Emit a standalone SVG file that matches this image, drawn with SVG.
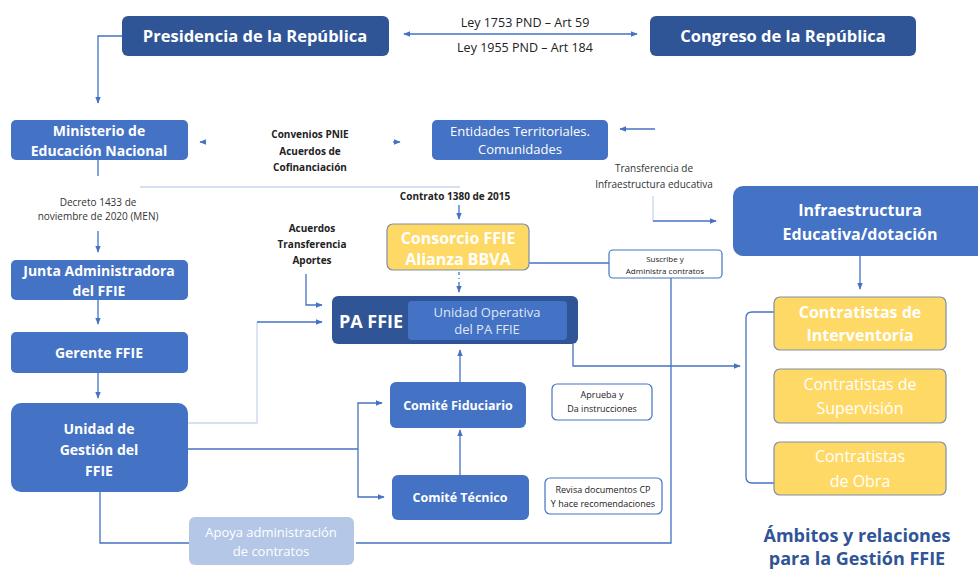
<svg xmlns="http://www.w3.org/2000/svg" width="978" height="569" viewBox="0 0 978 569">
<defs>
<marker id="ah" viewBox="0 0 10 10" refX="9" refY="5" markerWidth="7" markerHeight="7" orient="auto-start-reverse" markerUnits="userSpaceOnUse"><path d="M0,1 L10,5 L0,9 z" fill="#4472c4"/></marker>
<style>
text{font-family:"Open Sans","Noto Sans","Liberation Sans",sans-serif;text-anchor:middle}
.dk{fill:#2f5597}
.md{fill:#4472c4}
.yl{fill:#ffd966;stroke:#7f8fa6;stroke-width:1.2}
.lt{fill:#b4c7e7}
.note{fill:#fff;stroke:#4472c4;stroke-width:1.2}
.wb{fill:#fff;font-weight:bold}
.wn{fill:#fff}
.lb{fill:#222;font-weight:bold;font-size:10px}
.ln{fill:#333;font-size:10px}
.c{fill:none;stroke:#4472c4;stroke-width:1.3}
.f{fill:none;stroke:#c9d6ee;stroke-width:1.3}
</style>
</defs>
<g id="connectors">
<line class="c" x1="404" y1="34" x2="637" y2="34" marker-start="url(#ah)" marker-end="url(#ah)"/>
<path class="c" d="M122,36 H98 V103" marker-end="url(#ah)"/>
<line class="c" x1="205" y1="142" x2="200" y2="142" marker-end="url(#ah)"/>
<line class="c" x1="393" y1="142" x2="400" y2="142" marker-end="url(#ah)"/>
<path class="c" d="M655,129 H620" marker-end="url(#ah)"/>
<path class="f" d="M653,196 V221"/>
<path class="c" d="M653,221 H716" marker-end="url(#ah)"/>
<path class="c" d="M98,160 V176"/>
<path class="c" d="M98,231 V252" marker-end="url(#ah)"/>
<path class="f" d="M140,187 H460"/>
<path class="c" d="M459,205 V219" marker-end="url(#ah)"/>
<path class="c" d="M529,263 H609"/>
<path class="c" d="M459,272 V279" stroke-dasharray="3,3"/>
<path class="c" d="M459,282 V292" marker-end="url(#ah)"/>
<path class="c" d="M306,274 V305 H322" marker-end="url(#ah)"/>
<path class="f" d="M188,423 H257 V322"/>
<path class="c" d="M257,322 H322" marker-end="url(#ah)"/>
<path class="c" d="M573,344 V366 H740" marker-end="url(#ah)"/>
<path class="c" d="M775,312 H752 Q746,312 746,318 V477 Q746,483 752,483 H775"/>
<path class="c" d="M860,256 V289" marker-end="url(#ah)"/>
<path class="c" d="M98,300 V324" marker-end="url(#ah)"/>
<path class="c" d="M98,373 V398" marker-end="url(#ah)"/>
<path class="c" d="M188,449 H358"/>
<path class="c" d="M358,449 V403 H382" marker-end="url(#ah)"/>
<path class="c" d="M358,449 V497 H384" marker-end="url(#ah)"/>
<path class="c" d="M460,475 V430" marker-end="url(#ah)"/>
<path class="c" d="M460,382 V350" marker-end="url(#ah)"/>
<path class="c" d="M100,492 V543 H189"/>
<path class="c" d="M356,543 H671 V278"/>
</g>
<g id="presidencia"><rect class="dk" x="122" y="16" width="267" height="40" rx="6"/><text class="wb" x="255" y="42" font-size="16.5">Presidencia de la República</text></g>
<g id="congreso"><rect class="dk" x="650" y="16" width="266" height="40" rx="6"/><text class="wb" x="783" y="42" font-size="16.5">Congreso de la República</text></g>
<g id="ley-labels"><text x="525" y="27" font-size="12.5" fill="#222">Ley 1753 PND – Art 59</text><text x="525" y="52" font-size="12.5" fill="#222">Ley 1955 PND – Art 184</text></g>
<g id="ministerio"><rect class="md" x="11" y="120" width="177" height="40" rx="5"/><text class="wb" x="99" y="136" font-size="14">Ministerio de</text><text class="wb" x="99" y="156" font-size="14">Educación Nacional</text></g>
<g id="convenios"><text class="lb" x="310" y="138">Convenios PNIE</text><text class="lb" x="310" y="155">Acuerdos de</text><text class="lb" x="310" y="171">Cofinanciación</text></g>
<g id="entidades"><rect class="md" x="432" y="120" width="176" height="40" rx="5"/><text class="wn" x="520" y="136" font-size="13">Entidades Territoriales.</text><text class="wn" x="520" y="154" font-size="13">Comunidades</text></g>
<g id="transferencia"><text class="ln" x="654" y="172">Transferencia de</text><text class="ln" x="654" y="188">Infraestructura educativa</text></g>
<g id="decreto"><text class="ln" x="98" y="206">Decreto 1433 de</text><text class="ln" x="98" y="220">noviembre de 2020 (MEN)</text></g>
<g id="contrato"><text class="lb" x="455" y="200">Contrato 1380 de 2015</text></g>
<g id="acuerdos"><text class="lb" x="312" y="232">Acuerdos</text><text class="lb" x="312" y="248">Transferencia</text><text class="lb" x="312" y="264">Aportes</text></g>
<g id="junta"><rect class="md" x="11" y="260" width="177" height="40" rx="5"/><text class="wb" x="99" y="276" font-size="14">Junta Administradora</text><text class="wb" x="99" y="296" font-size="14">del FFIE</text></g>
<g id="gerente"><rect class="md" x="11" y="332" width="177" height="41" rx="5"/><text class="wb" x="99" y="358" font-size="14">Gerente FFIE</text></g>
<g id="unidad-gestion"><rect class="md" x="11" y="403" width="177" height="89" rx="10"/><text class="wb" x="99" y="434" font-size="14">Unidad de</text><text class="wb" x="99" y="455" font-size="14">Gestión del</text><text class="wb" x="99" y="476" font-size="14">FFIE</text></g>
<g id="consorcio"><rect class="yl" x="387" y="224" width="142" height="46" rx="6"/><text class="wb" x="458" y="244" font-size="16">Consorcio FFIE</text><text class="wb" x="458" y="265" font-size="16">Alianza BBVA</text></g>
<g id="suscribe"><rect class="note" x="609" y="250" width="113" height="28" rx="4"/><text x="665" y="262" font-size="8" fill="#222">Suscribe y</text><text x="665" y="274" font-size="8" fill="#222">Administra contratos</text></g>
<g id="pa-ffie"><rect class="dk" x="332" y="296" width="246" height="48" rx="6"/><text class="wb" x="371" y="328" font-size="18">PA FFIE</text><rect class="md" x="408" y="301" width="159" height="39" rx="4"/><text x="487" y="317" font-size="13" fill="#dfe7f5">Unidad Operativa</text><text x="487" y="334" font-size="13" fill="#dfe7f5">del PA FFIE</text></g>
<g id="infraestructura"><rect class="md" x="733" y="186" width="260" height="70" rx="10"/><text class="wb" x="860" y="216" font-size="16">Infraestructura</text><text class="wb" x="860" y="240" font-size="16">Educativa/dotación</text></g>
<g id="interventoria"><rect class="yl" x="774" y="297" width="172" height="53" rx="6"/><text class="wb" x="860" y="318" font-size="16">Contratistas de</text><text class="wb" x="860" y="341" font-size="16">Interventoría</text></g>
<g id="supervision"><rect class="yl" x="774" y="369" width="172" height="54" rx="6"/><text class="wn" x="860" y="390" font-size="16">Contratistas de</text><text class="wn" x="860" y="414" font-size="16">Supervisión</text></g>
<g id="obra"><rect class="yl" x="774" y="442" width="172" height="53" rx="6"/><text class="wn" x="860" y="462" font-size="16">Contratistas</text><text class="wn" x="860" y="487" font-size="16">de Obra</text></g>
<g id="comite-fiduciario"><rect class="md" x="390" y="382" width="136" height="46" rx="6"/><text class="wb" x="458" y="410" font-size="12.5">Comité Fiduciario</text></g>
<g id="comite-tecnico"><rect class="md" x="392" y="475" width="137" height="45" rx="6"/><text class="wb" x="460" y="502" font-size="12.5">Comité Técnico</text></g>
<g id="aprueba"><rect class="note" x="552" y="384" width="100" height="36" rx="5"/><text x="602" y="398" font-size="9" fill="#222">Aprueba y</text><text x="602" y="412" font-size="9" fill="#222">Da instrucciones</text></g>
<g id="revisa"><rect class="note" x="545" y="478" width="117" height="36" rx="5"/><text x="603" y="493" font-size="9" fill="#222">Revisa documentos CP</text><text x="603" y="507" font-size="9" fill="#222">Y hace recomendaciones</text></g>
<g id="apoya"><rect class="lt" x="189" y="517" width="165" height="48" rx="6"/><text class="wn" x="271" y="537" font-size="13">Apoya administración</text><text class="wn" x="271" y="556" font-size="13">de contratos</text></g>
<g id="titulo"><text x="857" y="542" font-size="18" font-weight="bold" fill="#2f5597">Ámbitos y relaciones</text><text x="857" y="565" font-size="18" font-weight="bold" fill="#2f5597">para la Gestión FFIE</text></g>
</svg>
